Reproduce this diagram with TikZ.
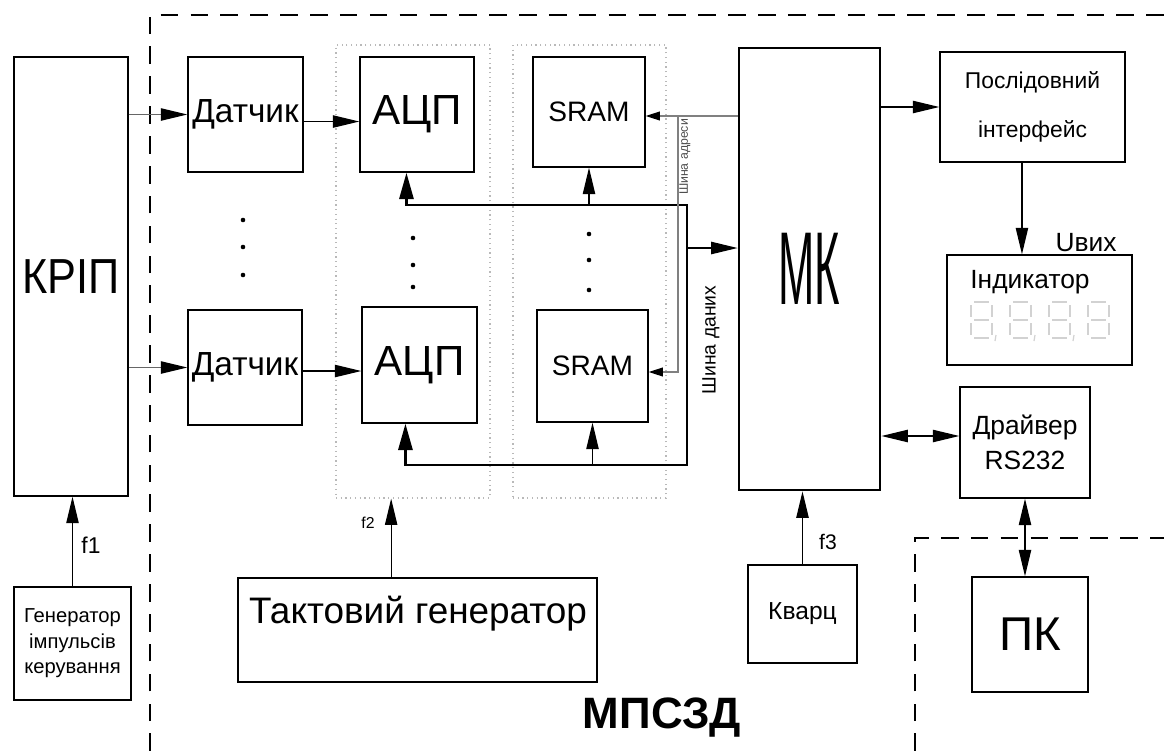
\documentclass[tikz,border=0pt]{standalone}
\usepackage{fontspec}
\setmainfont{Liberation Sans}
\usetikzlibrary{arrows.meta,fit}
\newcommand\fs[1]{\fontsize{#1}{#1}\selectfont}
\tikzset{
  blk/.style={draw, line width=0.8pt, inner sep=0pt},
  grp/.style={draw=gray!55, dotted, line width=0.7pt, inner sep=0pt},
  arr/.style={-{Triangle[length=15pt,width=7pt,black]}, line width=0.7pt},
  arrtwo/.style={{Triangle[length=15pt,width=7pt]}-{Triangle[length=15pt,width=7pt]}, line width=0.7pt},
  adr/.style={-{Triangle[length=8pt,width=5pt,black]}, draw=gray, line width=0.6pt},
  bus/.style={{Triangle[length=15pt,width=8pt]}-{Triangle[length=15pt,width=8pt]}, line width=1.6pt},
  frame/.style={dash pattern=on 10pt off 7pt, line width=1.1pt},
  seg/.style={draw=gray!35, line width=0.7pt},
  dot/.style={fill=black},
}
\begin{document}
\begin{tikzpicture}[x=0.02cm,y=-0.02cm]
\useasboundingbox (0,0) rectangle (1164,751);
% frames
\draw[frame] (150,751) -- (150,15) -- (1164,15);
\draw[frame] (915,751) -- (915,538) -- (1164,538);
\node[font=\bfseries\fs{25}] (mpszd) at (662,718) {МПСЗД};
% groups
\node[grp, fit={(336,45) (490,498)}] (grpA) {};
\node[grp, fit={(513,45) (666,498)}] (grpB) {};
% blocks
\node[blk, fit={(14,57) (128,496)}] (krip) {};
\node[blk, fit={(14,587) (131,700)}] (gen) {};
\node[blk, fit={(188,57) (303,172)}] (dA) {};
\node[blk, fit={(188,310) (302,425)}] (dB) {};
\node[blk, fit={(360,57) (474,172)}] (adcA) {};
\node[blk, fit={(362,307) (477,423)}] (adcB) {};
\node[blk, fit={(533,57) (645,167)}] (sramA) {};
\node[blk, fit={(537,310) (648,422)}] (sramB) {};
\node[blk, line width=1.6pt, fit={(739,48) (880,490)}] (mk) {};
\node[blk, fit={(940,52) (1125,162)}] (ser) {};
\node[blk, fit={(947,255) (1132,365)}] (ind) {};
\node[blk, fit={(960,387) (1090,498)}] (drv) {};
\node[blk, fit={(972,577) (1088,692)}] (pc) {};
\node[blk, fit={(748,565) (857,663)}] (kv) {};
\node[blk, fit={(238,578) (597,682)}] (takt) {};
% block texts
\node (kripT) at (krip.center) {\scalebox{0.88}[1]{\fs{28}КРІП}};
\node[align=center, font=\fontsize{11.5}{14.5}\selectfont] (genT) at (gen.center) {Генератор\\імпульсів\\керування};
\node[font=\fs{19}] (dAT) at (dA.center) {Датчик};
\node[font=\fs{19}] (dBT) at (dB.center) {Датчик};
\node[font=\fs{24}] (adcAT) at (adcA.center) {АЦП};
\node[font=\fs{24}] (adcBT) at (adcB.center) {АЦП};
\node[font=\fs{16}] (sramAT) at (sramA.center) {SRAM};
\node[font=\fs{16}] (sramBT) at (sramB.center) {SRAM};
\node (mkT) at (mk.center) {\scalebox{0.42}[1]{\fs{59}МК}};
\node[align=center, font=\fontsize{13}{28}\selectfont] (serT) at (ser.center) {Послідовний\\інтерфейс};
\node[font=\fs{15}] (indT) at (1030,282) {Індикатор};
\node[align=center, font=\fontsize{15}{20}\selectfont] (drvT) at (drv.center) {Драйвер\\RS232};
\node[font=\fs{27}] (pcT) at (pc.center) {ПК};
\node[font=\fs{14}] (kvT) at (kv.center) {Кварц};
\node[font=\fs{21}] (taktT) at (418,614) {Тактовий генератор};
% seven segment digits
\foreach \dx in {970,1009,1048,1087}{
  \draw[seg] (\dx+4,302) -- (\dx+19,302);
  \draw[seg] (\dx+4,320) -- (\dx+19,320);
  \draw[seg] (\dx+4,338) -- (\dx+19,338);
  \draw[seg] (\dx+1,305) -- (\dx+1,317);
  \draw[seg] (\dx+1,323) -- (\dx+1,335);
  \draw[seg] (\dx+22,305) -- (\dx+22,317);
  \draw[seg] (\dx+22,323) -- (\dx+22,335);
}
\foreach \dx in {970,1009,1048}
  \draw[seg] (\dx+26,335) -- (\dx+25,341);
% dots
\foreach \yy in {220,247,275} \fill[dot] (243,\yy) circle (1.3pt);
\foreach \yy in {238,265,287} \fill[dot] (413,\yy) circle (1.3pt);
\foreach \yy in {234,260,290} \fill[dot] (589,\yy) circle (1.3pt);
% signal paths
\draw[arr, draw=gray!80!black] (krip.east |- dA.west) -- (dA.west);
\draw[arr, draw=gray!80!black] (krip.east |- dB.west) -- (dB.west);
\draw[arr] ([yshift=-4pt]dA.east) -- ([yshift=-4pt]dA.east -| adcA.west);
\draw[arr] ([yshift=-2pt]dB.east) -- ([yshift=-2pt]dB.east -| adcB.west);
\draw[arr] (gen.north) -- (gen.north |- krip.south);
\node[font=\fs{13}] (f1) at (91,545) {f1};
\draw[arr] ([xshift=-15pt]takt.north) -- ([xshift=-15pt]takt.north |- grpA.south);
\node[font=\fs{9}] (f2) at (368,523) {f2};
\draw[arr] (kv.north) -- (kv.north |- mk.south);
\node[font=\fs{12}] (f3) at (828,542) {f3};
% data bus
\coordinate (busNE) at (687,205);
\coordinate (busSE) at (687,465);
\coordinate (busMK) at (687,248);
\draw[bus] ([xshift=-6pt]adcA.south) |- (busNE) -- (busSE) -| ([xshift=-8pt]adcB.south);
\draw[arr] (sramA.south |- busNE) -- (sramA.south);
\draw[arr] (sramB.south |- busSE) -- (sramB.south);
\draw[arr] (busMK) -- (busMK -| mk.west);
\node[font=\fs{11}, rotate=90] (busD) at (711,340) {Шина даних};
% address bus
\coordinate (adrT) at (678,116);
\coordinate (adrB) at (678,372);
\draw[adr] (mk.west |- adrT) -- (sramA.east |- adrT);
\draw[adr] (adrT) |- (sramB.east |- adrB);
\node[font=\fs{7}, rotate=90, text=gray!60!black] (busA) at (685,157) {Шина адреси};
% outputs
\draw[arr] (mk.east |- ser.west) -- (ser.west);
\draw[arr] ([xshift=-6pt]ser.south) -- ([xshift=-6pt]ser.south |- ind.north);
\node[font=\fs{15}] (uout) at (1086,243) {Uвих};
\draw[arrtwo] (mk.east |- 0,436) -- (drv.west |- 0,436);
\draw[arrtwo] (drv.south) -- (drv.south |- pc.north);
\end{tikzpicture}
\end{document}
